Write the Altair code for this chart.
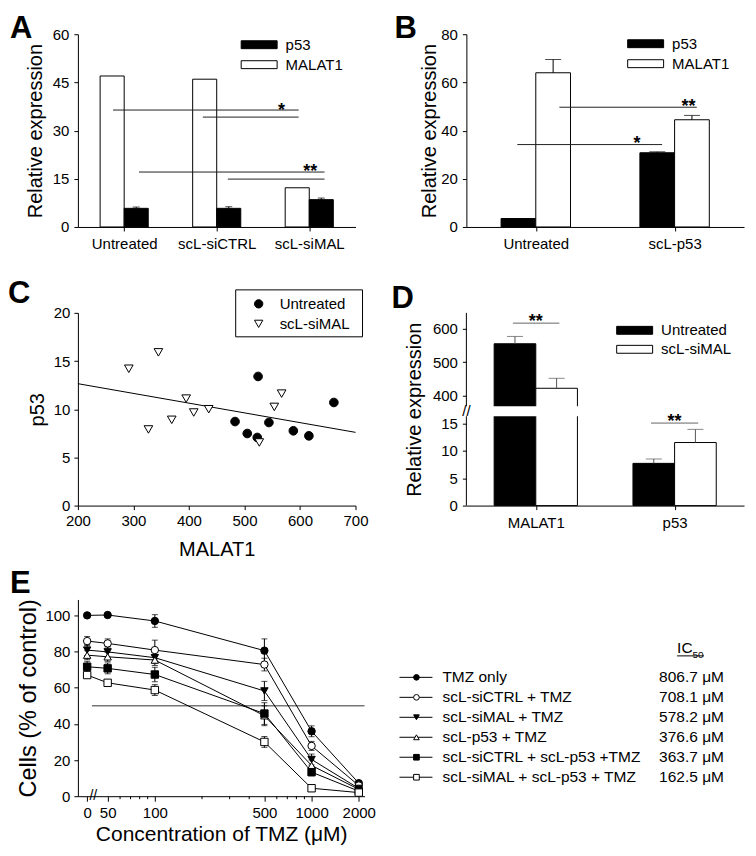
import json
import altair as alt
import numpy as np
import pandas as pd

FONT = "Liberation Sans"
W = 278
WE = 287

# ---------------- Panel A ----------------
A_CATS = ["Untreated", "scL-siCTRL", "scL-siMAL"]
A_MALAT1 = [47.0, 46.0, 12.2]
A_MALAT1_ERR = [0.0, 0.0, 0.0]
A_P53 = [5.8, 5.8, 8.5]
A_P53_ERR = [0.4, 0.5, 0.5]
A_SIG_X1 = [-0.12, 0.85, 0.16, 1.12]
A_SIG_X2 = [1.885, 1.885, 2.165, 2.165]
A_SIG_Y = [36.4, 34.2, 17.1, 14.9]
A_STARS = ["*", "**"]
A_STAR_X = [1.70, 2.01]
A_STAR_Y = [34.5, 15.5]

# ---------------- Panel B ----------------
B_CATS = ["Untreated", "scL-p53"]
B_P53 = [3.5, 30.8]
B_P53_ERR = [0.0, 0.4]
B_MALAT1 = [64.0, 44.5]
B_MALAT1_ERR = [5.5, 1.8]
B_SIG_X1 = [-0.133, 0.17]
B_SIG_X2 = [0.91, 1.16]
B_SIG_Y = [34.2, 49.7]
B_STARS = ["*", "**"]
B_STAR_X = [0.73, 1.10]
B_STAR_Y = [32.3, 47.7]

# ---------------- Panel C ----------------
C_GROUPS = ["Untreated", "scL-siMAL"]
C_UNT_X = [483, 505, 524.5, 523, 544, 588, 616, 661]
C_UNT_Y = [8.72, 7.48, 13.4, 7.07, 8.62, 7.76, 7.24, 10.7]
C_SIMAL_X = [291.7, 345, 327, 369, 395, 408.6, 435.6, 526.7, 553.7, 566.9]
C_SIMAL_Y = [14.2, 15.9, 7.9, 8.9, 11.1, 9.66, 10.0, 6.55, 10.24, 11.62]
C_FIT_X = [200, 700]
C_FIT_Y = [12.65, 7.6]

# ---------------- Panel D ----------------
D_CATS = ["MALAT1", "p53"]
D_UNT = [555.0, 7.7]
D_UNT_ERR = [22.0, 0.8]
D_SIMAL = [421.0, 11.5]
D_SIMAL_ERR = [30.0, 2.4]
D_SIG_X1 = [-0.165, 0.83]
D_SIG_X2 = [0.17, 1.17]
D_SIG_Y = [617.0, 15.05]
D_STARS = ["**", "**"]
D_STAR_X = [0.0, 1.0]
D_STAR_Y = [606.0, 14.4]
D_BREAK = [16.3, 367.0]
D_TOP = 648.0

# ---------------- Panel E ----------------
E_CONC = [0, 50, 100, 500, 1000, 2000]
E_ZERO_POS = 37
E_SERIES = ["TMZ only", "scL-siCTRL + TMZ", "scL-siMAL + TMZ", "scL-p53 + TMZ",
            "scL-siCTRL + scL-p53 +TMZ", "scL-siMAL + scL-p53 + TMZ"]
E_SHAPES = ["circle", "circle", "triangle-down", "triangle-up", "square", "square"]
E_FILLS = ["black", "white", "black", "white", "black", "white"]
E_SIZES = [55, 55, 60, 60, 60, 60]
E_TMZ = [100.0, 100.2, 96.9, 80.5, 35.9, 7.2]
E_TMZ_ERR = [0.8, 0.8, 3.5, 6.5, 3.0, 1.0]
E_SICTRL = [85.8, 84.5, 80.8, 72.8, 27.8, 5.9]
E_SICTRL_ERR = [2.5, 2.5, 5.5, 3.5, 2.5, 1.0]
E_SIMAL = [80.8, 79.8, 76.6, 58.2, 20.3, 4.3]
E_SIMAL_ERR = [3.0, 3.0, 3.0, 5.3, 3.0, 1.0]
E_P53 = [78.0, 77.1, 75.3, 44.5, 17.0, 3.8]
E_P53_ERR = [2.5, 2.5, 3.0, 5.5, 3.0, 1.0]
E_SICTRL_P53 = [71.6, 70.7, 67.3, 45.7, 13.3, 2.8]
E_SICTRL_P53_ERR = [3.0, 3.0, 4.0, 6.0, 2.0, 1.0]
E_SIMAL_P53 = [67.0, 62.7, 58.7, 30.0, 4.4, 2.0]
E_SIMAL_P53_ERR = [1.5, 1.0, 3.0, 3.0, 1.0, 0.5]
E_IC50 = [806.7, 708.1, 578.2, 376.6, 363.7, 162.5]
E_MINOR_TICKS = [60, 70, 80, 90, 200, 300, 400, 600, 700, 800, 900]
E_X_TICKS = [E_ZERO_POS, 50, 100, 500, 1000, 2000]
E_X_DOMAIN = [32.3, 2176]


def letter(ch, dx, dy):
    return alt.Chart(pd.DataFrame({"t": [ch]})).mark_text(
        align="left", baseline="alphabetic", fontSize=31, fontWeight="bold",
        font=FONT, color="black").encode(text="t:N", x=alt.value(dx), y=alt.value(dy))


def swatch_legend(lx, ly, rowpad=2):
    return alt.Legend(orient="none", legendX=lx, legendY=ly, title=None,
                      symbolType="M-2,-0.44H2V0.44H-2Z", symbolSize=324,
                      symbolStrokeColor="black", symbolStrokeWidth=1,
                      labelOffset=17, labelFontSize=15, labelFont=FONT,
                      labelColor="black", padding=0, rowPadding=rowpad)


def cat_axis(cats):
    return alt.Axis(values=list(range(len(cats))),
                    labelExpr=json.dumps(cats) + "[datum.value]",
                    title=None, tickSize=4, labelPadding=6, labelFlush=False,
                    labelOverlap=False)


def bar_panel(cats, left, right, bw, xs, ys, xaxis, yaxis, legdom, legrange, legend,
              sigx1, sigx2, sigy, stars, starx, stary, cap, errcolor, sigcolor):
    rows = []
    for side, (name, vals, errs) in ((-1, left), (1, right)):
        for i, (v, e) in enumerate(zip(vals, errs)):
            x0 = i - bw if side < 0 else i
            rows.append(dict(series=name, x0=x0, x1=x0 + bw, xc=x0 + bw / 2,
                             v=v, top=v + e, err=e))
    df = pd.DataFrame(rows)
    bars = alt.Chart(df).mark_rect(stroke="black", strokeWidth=1).encode(
        x=alt.X("x0:Q", scale=xs, axis=xaxis),
        x2="x1:Q",
        y=alt.Y("v:Q", scale=ys, axis=yaxis),
        y2=alt.datum(0),
        fill=alt.Fill("series:N", scale=alt.Scale(domain=legdom, range=legrange),
                      legend=legend))
    edf = df[df.err > 0]
    err = alt.Chart(edf).mark_rule(color=errcolor, strokeWidth=1).encode(
        x=alt.X("xc:Q", scale=xs, axis=xaxis), y=alt.Y("v:Q", scale=ys, axis=yaxis),
        y2="top:Q")
    caps = alt.Chart(edf).mark_tick(orient="horizontal", size=cap, thickness=1,
                                    color=errcolor).encode(
        x=alt.X("xc:Q", scale=xs, axis=xaxis), y=alt.Y("top:Q", scale=ys, axis=yaxis))
    sdf = pd.DataFrame({"x1": sigx1, "x2": sigx2, "y": sigy})
    sig = alt.Chart(sdf).mark_rule(color=sigcolor, strokeWidth=1).encode(
        x=alt.X("x1:Q", scale=xs, axis=xaxis), x2="x2:Q",
        y=alt.Y("y:Q", scale=ys, axis=yaxis))
    tdf = pd.DataFrame({"t": stars, "x": starx, "y": stary})
    st = alt.Chart(tdf).mark_text(fontSize=18, fontWeight="bold", font=FONT,
                                  baseline="alphabetic", color="black").encode(
        x=alt.X("x:Q", scale=xs, axis=xaxis), y=alt.Y("y:Q", scale=ys, axis=yaxis),
        text="t:N")
    return [bars, err, caps, sig, st]


def yaxis_rel(values, titlex, **kw):
    return alt.Axis(values=values, title="Relative expression", titleX=titlex,
                    titleBaseline="alphabetic", tickSize=4, labelPadding=5, **kw)


# ---- A
xsA = alt.Scale(domain=[-0.5, 2.5], nice=False, zero=False)
ysA = alt.Scale(domain=[0, 60], nice=False)
A = alt.layer(*bar_panel(
    A_CATS, ("MALAT1", A_MALAT1, A_MALAT1_ERR), ("p53", A_P53, A_P53_ERR), 0.26,
    xsA, ysA, cat_axis(A_CATS), yaxis_rel([0, 15, 30, 45, 60], -36),
    ["p53", "MALAT1"], ["black", "white"],
    swatch_legend(172, 1), A_SIG_X1, A_SIG_X2, A_SIG_Y, A_STARS, A_STAR_X, A_STAR_Y,
    7, "black", "#222"), letter("A", -68, 3.5)).properties(width=W, height=193)

# ---- B
xsB = alt.Scale(domain=[-0.5, 1.5], nice=False, zero=False)
ysB = alt.Scale(domain=[0, 80], nice=False)
B = alt.layer(*bar_panel(
    B_CATS, ("p53", B_P53, B_P53_ERR), ("MALAT1", B_MALAT1, B_MALAT1_ERR), 0.25,
    xsB, ysB, cat_axis(B_CATS), yaxis_rel([0, 20, 40, 60, 80], -31),
    ["p53", "MALAT1"], ["black", "white"],
    swatch_legend(170, 0), B_SIG_X1, B_SIG_X2, B_SIG_Y, B_STARS, B_STAR_X, B_STAR_Y,
    16, "black", "#222"), letter("B", -72, 3.5)).properties(width=W, height=193)

# ---- C
cxs = alt.Scale(domain=[200, 700], nice=False, zero=False)
cys = alt.Scale(domain=[0, 20], nice=False)
cxa = alt.Axis(values=[200, 300, 400, 500, 600, 700], title="MALAT1", titleY=50,
               titleBaseline="alphabetic", tickSize=4, labelPadding=4,
               labelFlush=False, labelOverlap=False)
cya = alt.Axis(values=[0, 5, 10, 15, 20], title="p53", titleX=-34,
               titleBaseline="alphabetic", tickSize=4, labelPadding=4)
c_shape = alt.Scale(domain=C_GROUPS, range=["circle", "triangle-down"])
c_fill = alt.Scale(domain=C_GROUPS, range=["black", "white"])
c_df = pd.DataFrame({
    "malat1": C_UNT_X + C_SIMAL_X,
    "p53": C_UNT_Y + C_SIMAL_Y,
    "group": [C_GROUPS[0]] * len(C_UNT_X) + [C_GROUPS[1]] * len(C_SIMAL_X)})
c_fit = alt.Chart(pd.DataFrame({"x": C_FIT_X, "y": C_FIT_Y})).mark_line(
    color="black", strokeWidth=1).encode(
    x=alt.X("x:Q", scale=cxs, axis=cxa), y=alt.Y("y:Q", scale=cys, axis=cya))
c_pts = alt.Chart(c_df).mark_point(filled=True, stroke="black", strokeWidth=1,
                                   size=75, opacity=1).encode(
    x=alt.X("malat1:Q", scale=cxs, axis=cxa),
    y=alt.Y("p53:Q", scale=cys, axis=cya),
    shape=alt.Shape("group:N", scale=c_shape, legend=None),
    fill=alt.Fill("group:N", scale=c_fill, legend=None))
# boxed legend for C
c_box = alt.Chart(pd.DataFrame({"b": [0]})).mark_rect(
    fill="white", stroke="black", strokeWidth=1).encode(
    x=alt.value(158), x2=alt.value(285), y=alt.value(-23), y2=alt.value(24))
c_leg_layers = []
for i, g in enumerate(C_GROUPS):
    gdf = pd.DataFrame({"group": [g]})
    c_leg_layers.append(alt.Chart(gdf).mark_point(
        filled=True, stroke="black", strokeWidth=1, size=70, opacity=1).encode(
        x=alt.value(181), y=alt.value(-9 + 20 * i),
        shape=alt.Shape("group:N", scale=c_shape, legend=None),
        fill=alt.Fill("group:N", scale=c_fill, legend=None)))
    c_leg_layers.append(alt.Chart(gdf).mark_text(
        align="left", baseline="middle", fontSize=15, font=FONT, color="black").encode(
        x=alt.value(202), y=alt.value(-9 + 20 * i), text="group:N"))
C = alt.layer(c_fit, c_pts, c_box, *c_leg_layers,
              letter("C", -70, -10)).properties(width=W, height=193)

# ---- D (broken axis)
xsD = alt.Scale(domain=[-0.5, 1.5], nice=False, zero=False)
ysD = alt.Scale(domain=[0, D_BREAK[0], D_BREAK[1], D_TOP],
                range=[193, 103.5, 93.5, 0], nice=False, zero=False)
dxa = cat_axis(D_CATS)
dya = yaxis_rel([0, 5, 10, 15, 400, 500, 600], -46, domain=False)
d_layers = bar_panel(
    D_CATS, ("Untreated", D_UNT, D_UNT_ERR), ("scL-siMAL", D_SIMAL, D_SIMAL_ERR), 0.3,
    xsD, ysD, dxa, dya, ["Untreated", "scL-siMAL"], ["black", "white"],
    swatch_legend(159, 8, 1),
    D_SIG_X1, D_SIG_X2, D_SIG_Y, D_STARS, D_STAR_X, D_STAR_Y, 16, "#555", "#666")
cover = alt.Chart(pd.DataFrame({"x1": [-0.49], "x2": [1.5], "y1": [D_BREAK[0]],
                                "y2": [D_BREAK[1]]})).mark_rect(color="white").encode(
    x=alt.X("x1:Q", scale=xsD, axis=dxa), x2="x2:Q",
    y=alt.Y("y1:Q", scale=ysD, axis=dya), y2="y2:Q")
axis_segs = alt.Chart(pd.DataFrame({"x": [-0.5, -0.5], "y1": [0, D_BREAK[1]],
                                    "y2": [D_BREAK[0], D_TOP]})).mark_rule(
    color="black", strokeWidth=1).encode(
    x=alt.X("x:Q", scale=xsD, axis=dxa), y=alt.Y("y1:Q", scale=ysD, axis=dya),
    y2="y2:Q")
brk = alt.Chart(pd.DataFrame({"x": [-0.5], "y": [(D_BREAK[0] + D_BREAK[1]) / 2],
                              "t": ["//"]})).mark_text(
    fontSize=15, font=FONT, baseline="middle", align="center", color="black").encode(
    x=alt.X("x:Q", scale=xsD, axis=dxa), y=alt.Y("y:Q", scale=ysD, axis=dya),
    text="t:N")
D = alt.layer(d_layers[0], cover, d_layers[1], d_layers[2], d_layers[3], d_layers[4],
              axis_segs, brk, letter("D", -75, -5)).properties(width=W, height=193)

# ---- E
e_vals = [E_TMZ, E_SICTRL, E_SIMAL, E_P53, E_SICTRL_P53, E_SIMAL_P53]
e_errs = [E_TMZ_ERR, E_SICTRL_ERR, E_SIMAL_ERR, E_P53_ERR, E_SICTRL_P53_ERR,
          E_SIMAL_P53_ERR]
rows = []
for name, vals, errs in zip(E_SERIES, e_vals, e_errs):
    for c, v, e in zip(E_CONC, vals, errs):
        rows.append(dict(series=name, conc=c, pos=(E_ZERO_POS if c == 0 else c),
                         v=v, lo=v - e, hi=v + e))
e_df = pd.DataFrame(rows)
exs = alt.Scale(type="log", domain=E_X_DOMAIN, nice=False)
eys = alt.Scale(domain=[0, 108.8], range=[205, 8], nice=False)
shape_s = alt.Scale(domain=E_SERIES, range=E_SHAPES)
fill_s = alt.Scale(domain=E_SERIES, range=E_FILLS)
size_s = alt.Scale(domain=E_SERIES, range=E_SIZES)
exa = alt.Axis(values=E_X_TICKS,
               labelExpr="datum.value < 45 ? '0' : format(datum.value, 'd')",
               title="Concentration of TMZ (\u03bcM)", titleFontSize=21,
               titleY=44, titleBaseline="alphabetic", tickSize=5, labelPadding=4,
               labelFlush=False, labelOverlap=False)
eya = alt.Axis(values=[0, 20, 40, 60, 80, 100], title="Cells (% of control)",
               titleFontSize=23.5, titleX=-42, titleBaseline="alphabetic",
               tickSize=4, labelPadding=4)
half = alt.Chart(pd.DataFrame({"x1": [39.7], "x2": [E_X_DOMAIN[1]], "y": [50]})).mark_rule(
    color="#777", strokeWidth=1.4).encode(
    x=alt.X("x1:Q", scale=exs, axis=exa), x2="x2:Q",
    y=alt.Y("y:Q", scale=eys, axis=eya))
e_lines = alt.Chart(e_df).mark_line(color="black", strokeWidth=1).encode(
    x=alt.X("pos:Q", scale=exs, axis=exa), y=alt.Y("v:Q", scale=eys, axis=eya),
    detail="series:N")
e_err = alt.Chart(e_df).mark_rule(color="black", strokeWidth=1).encode(
    x=alt.X("pos:Q", scale=exs, axis=exa), y=alt.Y("lo:Q", scale=eys, axis=eya),
    y2="hi:Q")
e_cap_hi = alt.Chart(e_df).mark_tick(orient="horizontal", size=6, thickness=1,
                                     color="black").encode(
    x=alt.X("pos:Q", scale=exs, axis=exa), y=alt.Y("hi:Q", scale=eys, axis=eya))
e_cap_lo = alt.Chart(e_df).mark_tick(orient="horizontal", size=6, thickness=1,
                                     color="black").encode(
    x=alt.X("pos:Q", scale=exs, axis=exa), y=alt.Y("lo:Q", scale=eys, axis=eya))
e_pts = alt.Chart(e_df).mark_point(filled=True, stroke="black", strokeWidth=1,
                                   opacity=1).encode(
    x=alt.X("pos:Q", scale=exs, axis=exa), y=alt.Y("v:Q", scale=eys, axis=eya),
    shape=alt.Shape("series:N", scale=shape_s, legend=None),
    fill=alt.Fill("series:N", scale=fill_s, legend=None),
    size=alt.Size("series:N", scale=size_s, legend=None))
minor = alt.Chart(pd.DataFrame({"x": E_MINOR_TICKS})).mark_rule(
    color="black", strokeWidth=1).encode(
    x=alt.X("x:Q", scale=exs, axis=exa), y=alt.value(205), y2=alt.value(208))
ebrk = alt.Chart(pd.DataFrame({"x": [40.5], "y": [0], "t": ["//"]})).mark_text(
    fontSize=14, font=FONT, baseline="middle", align="center", color="black").encode(
    x=alt.X("x:Q", scale=exs, axis=exa), y=alt.Y("y:Q", scale=eys, axis=eya),
    text="t:N")
E = alt.layer(half, e_lines, e_err, e_cap_hi, e_cap_lo, e_pts, minor, ebrk,
              letter("E", -68, 2)).properties(width=WE, height=205)

# ---- E legend panel
l_df = pd.DataFrame({"series": E_SERIES, "row": list(range(len(E_SERIES))),
                     "ic": [f"{v:.1f} \u03bcM" for v in E_IC50]})
ly = alt.Y("row:Q", scale=alt.Scale(domain=[0, 5], range=[86, 186]), axis=None)
l_lines = alt.Chart(l_df).mark_rule(color="black", strokeWidth=1).encode(
    x=alt.value(-67), x2=alt.value(-34), y=ly)
l_pts = alt.Chart(l_df).mark_point(filled=True, stroke="black", strokeWidth=1,
                                   opacity=1, size=32).encode(
    x=alt.value(-50), y=ly,
    shape=alt.Shape("series:N", scale=shape_s, legend=None),
    fill=alt.Fill("series:N", scale=fill_s, legend=None))
l_txt = alt.Chart(l_df).mark_text(align="left", baseline="middle", fontSize=15.5,
                                  font=FONT, color="black").encode(
    x=alt.value(-24), y=ly, text="series:N")
l_ic = alt.Chart(l_df).mark_text(align="left", baseline="middle", fontSize=15.5,
                                 font=FONT, color="black").encode(
    x=alt.value(193), y=ly, text="ic:N")
hdr = alt.Chart(pd.DataFrame({"t": ["IC"]})).mark_text(
    align="left", baseline="alphabetic", fontSize=15.5, font=FONT, color="black").encode(
    x=alt.value(211), y=alt.value(62), text="t:N")
hdr_sub = alt.Chart(pd.DataFrame({"t": ["50"]})).mark_text(
    align="left", baseline="alphabetic", fontSize=10, font=FONT, color="black").encode(
    x=alt.value(226.5), y=alt.value(67), text="t:N")
hdr_ul = alt.Chart(pd.DataFrame({"t": ["u"]})).mark_rule(
    color="black", strokeWidth=1).encode(
    x=alt.value(211), x2=alt.value(238), y=alt.value(64.5))
L = alt.layer(l_lines, l_pts, l_txt, l_ic, hdr, hdr_sub, hdr_ul).properties(
    width=W, height=205)

chart = alt.concat(A, B, C, D, E, L, columns=2,
                   spacing={"row": 86, "column": 102}, bounds="flush").properties(
    padding={"left": 0, "top": 3.7, "right": 4, "bottom": 4}
).resolve_scale(
    fill="independent", shape="independent", size="independent"
).resolve_legend(
    fill="independent", shape="independent", size="independent"
).configure_view(stroke=None).configure_axis(
    labelFont=FONT, titleFont=FONT, labelFontSize=15, titleFontSize=20,
    titleFontWeight="normal", labelColor="black", titleColor="black",
    domainColor="black", tickColor="black", grid=False, domainWidth=1, tickWidth=1
).configure_legend(labelFont=FONT)

chart.save("out.html", embed_options={"renderer": "svg", "actions": False})
